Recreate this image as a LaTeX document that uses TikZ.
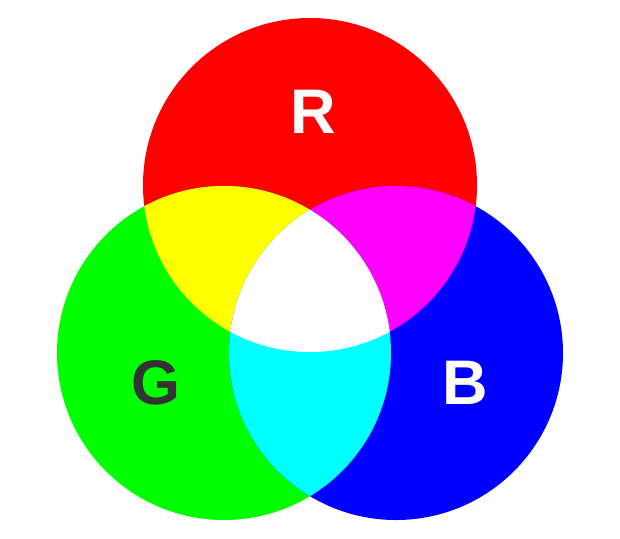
\documentclass[tikz,border=0pt]{standalone}
\usepackage{fontspec}
\setmainfont{Liberation Sans}
\definecolor{darkletter}{HTML}{333333}
\definecolor{lightred}{RGB}{255,0,0}
\definecolor{lightgreen}{RGB}{0,255,0}
\definecolor{lightblue}{RGB}{0,0,255}
\definecolor{lightyellow}{RGB}{255,255,0}
\definecolor{lightmagenta}{RGB}{255,0,255}
\definecolor{lightcyan}{RGB}{0,255,255}

\begin{document}
\begin{tikzpicture}[x=1pt, y=-1pt,
  letter/.style={font=\bfseries\fontsize{63}{63}\selectfont, inner sep=0pt, anchor=base},
]
  \useasboundingbox[fill=white] (0,0) rectangle (620,538);
  \coordinate (rc) at (310,185);
  \coordinate (gc) at (224,353);
  \coordinate (bc) at (396,353);

  % the three lights
  \fill[lightred]   (rc) circle [radius=167pt];
  \fill[lightgreen] (gc) circle [radius=167pt];
  \fill[lightblue]  (bc) circle [radius=167pt];

  % overlaps
  \begin{scope}
    \clip (rc) circle [radius=167pt];
    \fill[lightyellow]  (gc) circle [radius=167pt];
    \fill[lightmagenta] (bc) circle [radius=167pt];
  \end{scope}
  \begin{scope}
    \clip (gc) circle [radius=167pt];
    \fill[lightcyan] (bc) circle [radius=167pt];
    \clip (bc) circle [radius=167pt];
    \fill[white] (rc) circle [radius=167pt];
  \end{scope}

  \node[letter, text=white]      (rlabel) at (313,133) {R};
  \node[letter, text=darkletter] (glabel) at (156,404) {G};
  \node[letter, text=white]      (blabel) at (465,404) {B};
\end{tikzpicture}
\end{document}
